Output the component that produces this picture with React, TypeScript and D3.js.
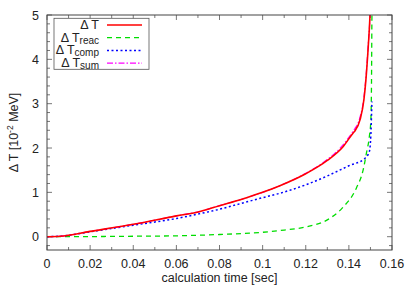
import React from "react";
import * as d3 from "d3";

const tRed = [0, 0.006, 0.02, 0.04, 0.06, 0.071, 0.08, 0.09, 0.1, 0.108, 0.12, 0.13, 0.1373, 0.142, 0.1427, 0.1452, 0.147, 0.148, 0.149, 0.1498, 0.1502];
const vRed = [0, 0.01, 0.12, 0.28, 0.47, 0.57, 0.7, 0.84, 1.0, 1.15, 1.42, 1.72, 2.03, 2.34, 2.38, 2.64, 3.1, 3.6, 4.3, 5.0, 5.6];
const vSum = [0, 0.01, 0.12, 0.28, 0.47, 0.57, 0.7, 0.84, 1.0, 1.15, 1.43, 1.74, 2.07, 2.38, 2.43, 2.7, 3.15, 3.65, 4.35, 5.0, 5.6];
const tBlue = [0, 0.006, 0.02, 0.04, 0.06, 0.071, 0.08, 0.09, 0.1, 0.108, 0.12, 0.13, 0.14, 0.1475, 0.1495, 0.1502, 0.1506, 0.1507];
const vBlue = [0, 0.01, 0.11, 0.26, 0.41, 0.52, 0.62, 0.75, 0.88, 0.98, 1.17, 1.37, 1.6, 1.77, 1.92, 2.3, 2.9, 3.05];
const tGreen = [0, 0.02, 0.04, 0.06, 0.08, 0.1, 0.11, 0.12, 0.13, 0.137, 0.1435, 0.1466, 0.1482, 0.1495, 0.1502, 0.1505, 0.1507, 0.151];
const vGreen = [0, 0.003, 0.01, 0.02, 0.05, 0.1, 0.15, 0.22, 0.38, 0.65, 1.1, 1.5, 1.9, 2.26, 2.64, 3.5, 5.0, 5.6];
const xTicks = [0, 0.02, 0.04, 0.06, 0.08, 0.1, 0.12, 0.14, 0.16];
const xTickLabels = ["0", "0.02", "0.04", "0.06", "0.08", "0.1", "0.12", "0.14", "0.16"];
const yTicks = [0, 1, 2, 3, 4, 5];

const W = 415, H = 291;
const L = 47, R = 392, T = 15, B = 250;
const FONT = "Liberation Sans, Arial, sans-serif";

export default function App() {
  const x = d3.scaleLinear().domain([0, 0.16]).range([L, R]);
  const y = d3.scaleLinear().domain([-0.3, 5]).range([B, T]);
  const line = (ts: number[], vs: number[]) =>
    d3.line<number>().x((_, i) => x(ts[i])).y((v) => y(v)).curve(d3.curveMonotoneX)(vs) || "";
  const xMinor = d3.range(0, 0.1601, 0.01);
  const yMinor = d3.range(-0.2, 5.001, 0.2);
  const legend = [
    { sub: "", color: "#ff0000", dash: "", w: 1.6 },
    { sub: "reac", color: "#00dd00", dash: "5,4", w: 1.3 },
    { sub: "comp", color: "#0000ff", dash: "2,2.5", w: 1.5 },
    { sub: "sum", color: "#ff00ff", dash: "6,2,1.5,2", w: 1.2 },
  ];
  return (
    <svg width={W} height={H} style={{ position: "absolute", left: 0, top: 0, background: "#fff" }} fontFamily={FONT}>
      <defs>
        <clipPath id="clip"><rect x={L} y={T} width={R - L} height={B - T} /></clipPath>
      </defs>
      <g stroke="#555" strokeWidth={0.8}>
        {xMinor.map((t, i) => {
          const major = i % 2 === 0;
          const len = major ? 5 : 3;
          return (
            <g key={"xm" + i}>
              <line x1={x(t)} x2={x(t)} y1={B} y2={B - len} />
              <line x1={x(t)} x2={x(t)} y1={T} y2={T + len} />
            </g>
          );
        })}
        {yMinor.map((v, i) => {
          const major = Math.abs(v - Math.round(v)) < 1e-6;
          const len = major ? 5 : 3;
          return (
            <g key={"ym" + i}>
              <line x1={L} x2={L + len} y1={y(v)} y2={y(v)} />
              <line x1={R} x2={R - len} y1={y(v)} y2={y(v)} />
            </g>
          );
        })}
      </g>
      <g clipPath="url(#clip)" fill="none">
        <path d={line(tGreen, vGreen)} stroke="#00dd00" strokeWidth={1.3} strokeDasharray="5,4" />
        <path d={line(tBlue, vBlue)} stroke="#0000ff" strokeWidth={1.5} strokeDasharray="2,2.5" />
        <path d={line(tRed, vSum)} stroke="#ff00ff" strokeWidth={1.2} strokeDasharray="6,2,1.5,2" />
        <path d={line(tRed, vRed)} stroke="#ff0000" strokeWidth={1.6} />
      </g>
      <rect x={L} y={T} width={R - L} height={B - T} fill="none" stroke="#444" strokeWidth={1} />
      <g fontSize={12.5} fill="#222">
        {xTicks.map((t, i) => (
          <text key={"xt" + i} x={x(t)} y={B + 18} textAnchor="middle">{xTickLabels[i]}</text>
        ))}
        {yTicks.map((v) => (
          <text key={"yt" + v} x={L - 8} y={y(v) + 4.5} textAnchor="end">{v}</text>
        ))}
      </g>
      <text x={(L + R) / 2} y={282} fontSize={12.5} textAnchor="middle" fill="#222">calculation time [sec]</text>
      <text transform={`translate(18,${(T + B) / 2}) rotate(-90)`} fontSize={12.5} textAnchor="middle" fill="#222">
        Δ T [10<tspan dy={-5} fontSize={8.5}>-2</tspan><tspan dy={5}> MeV]</tspan>
      </text>
      <rect x={54} y={18.3} width={95} height={51} fill="#fff" stroke="#555" strokeWidth={0.8} />
      {legend.map((l, i) => {
        const ry = 25 + i * 12.7;
        return (
          <g key={"lg" + i}>
            <text x={99} y={ry + 4} fontSize={12.5} fill="#222" textAnchor="end">
              Δ T{l.sub ? <tspan dy={2} fontSize={10}>{l.sub}</tspan> : null}
            </text>
            <line x1={107} x2={142} y1={ry} y2={ry} stroke={l.color} strokeWidth={l.w} strokeDasharray={l.dash} />
          </g>
        );
      })}
    </svg>
  );
}
